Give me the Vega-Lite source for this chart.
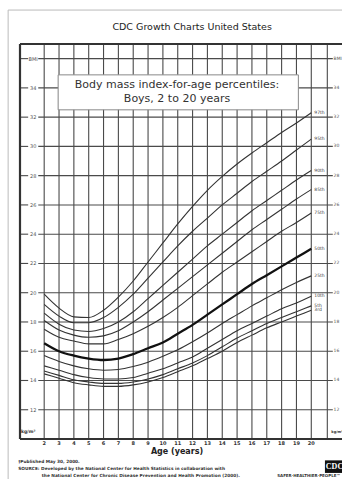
{
  "$schema": "https://vega.github.io/schema/vega-lite/v6.json",
  "width": 322,
  "height": 395,
  "autosize": "none",
  "padding": {"left": 20, "top": 44, "right": 0, "bottom": 40},
  "background": "white",
  "config": {"view": {"stroke": null}, "axisY": {"disable": true}, "axisX": {"disable": true}, "font": "DejaVu Sans"},
  "data": {"values": [{}]},
  "datasets": {
    "ages": [{"age":2},{"age":3},{"age":4},{"age":5},{"age":6},{"age":7},{"age":8},{"age":9},{"age":10},{"age":11},{"age":12},{"age":13},{"age":14},{"age":15},{"age":16},{"age":17},{"age":18},{"age":19},{"age":20}],
    "ylab": [{"bmi":12,"label":"12"},{"bmi":14,"label":"14"},{"bmi":16,"label":"16"},{"bmi":18,"label":"18"},{"bmi":20,"label":"20"},{"bmi":22,"label":"22"},{"bmi":24,"label":"24"},{"bmi":26,"label":"26"},{"bmi":28,"label":"28"},{"bmi":30,"label":"30"},{"bmi":32,"label":"32"},{"bmi":34,"label":"34"},{"bmi":36,"label":"BMI"}],
    "curves": [
      {"pct":"3rd","age":2,"bmi":14.45},{"pct":"3rd","age":3,"bmi":14.15},{"pct":"3rd","age":4,"bmi":13.85},{"pct":"3rd","age":5,"bmi":13.7},{"pct":"3rd","age":6,"bmi":13.6},{"pct":"3rd","age":7,"bmi":13.6},{"pct":"3rd","age":8,"bmi":13.7},{"pct":"3rd","age":9,"bmi":13.9},{"pct":"3rd","age":10,"bmi":14.2},{"pct":"3rd","age":11,"bmi":14.6},{"pct":"3rd","age":12,"bmi":15.0},{"pct":"3rd","age":13,"bmi":15.5},{"pct":"3rd","age":14,"bmi":16.0},{"pct":"3rd","age":15,"bmi":16.6},{"pct":"3rd","age":16,"bmi":17.1},{"pct":"3rd","age":17,"bmi":17.6},{"pct":"3rd","age":18,"bmi":18.0},{"pct":"3rd","age":19,"bmi":18.4},{"pct":"3rd","age":20,"bmi":18.8},
      {"pct":"5th","age":2,"bmi":14.65},{"pct":"5th","age":3,"bmi":14.35},{"pct":"5th","age":4,"bmi":14.05},{"pct":"5th","age":5,"bmi":13.9},{"pct":"5th","age":6,"bmi":13.8},{"pct":"5th","age":7,"bmi":13.8},{"pct":"5th","age":8,"bmi":13.9},{"pct":"5th","age":9,"bmi":14.1},{"pct":"5th","age":10,"bmi":14.4},{"pct":"5th","age":11,"bmi":14.8},{"pct":"5th","age":12,"bmi":15.2},{"pct":"5th","age":13,"bmi":15.7},{"pct":"5th","age":14,"bmi":16.3},{"pct":"5th","age":15,"bmi":16.9},{"pct":"5th","age":16,"bmi":17.4},{"pct":"5th","age":17,"bmi":17.9},{"pct":"5th","age":18,"bmi":18.3},{"pct":"5th","age":19,"bmi":18.7},{"pct":"5th","age":20,"bmi":19.1},
      {"pct":"10th","age":2,"bmi":15.0},{"pct":"10th","age":3,"bmi":14.7},{"pct":"10th","age":4,"bmi":14.4},{"pct":"10th","age":5,"bmi":14.2},{"pct":"10th","age":6,"bmi":14.1},{"pct":"10th","age":7,"bmi":14.1},{"pct":"10th","age":8,"bmi":14.2},{"pct":"10th","age":9,"bmi":14.5},{"pct":"10th","age":10,"bmi":14.8},{"pct":"10th","age":11,"bmi":15.2},{"pct":"10th","age":12,"bmi":15.6},{"pct":"10th","age":13,"bmi":16.2},{"pct":"10th","age":14,"bmi":16.8},{"pct":"10th","age":15,"bmi":17.4},{"pct":"10th","age":16,"bmi":17.9},{"pct":"10th","age":17,"bmi":18.4},{"pct":"10th","age":18,"bmi":18.9},{"pct":"10th","age":19,"bmi":19.3},{"pct":"10th","age":20,"bmi":19.75},
      {"pct":"25th","age":2,"bmi":15.7},{"pct":"25th","age":3,"bmi":15.3},{"pct":"25th","age":4,"bmi":15.0},{"pct":"25th","age":5,"bmi":14.8},{"pct":"25th","age":6,"bmi":14.7},{"pct":"25th","age":7,"bmi":14.75},{"pct":"25th","age":8,"bmi":14.95},{"pct":"25th","age":9,"bmi":15.25},{"pct":"25th","age":10,"bmi":15.65},{"pct":"25th","age":11,"bmi":16.1},{"pct":"25th","age":12,"bmi":16.65},{"pct":"25th","age":13,"bmi":17.25},{"pct":"25th","age":14,"bmi":17.9},{"pct":"25th","age":15,"bmi":18.5},{"pct":"25th","age":16,"bmi":19.1},{"pct":"25th","age":17,"bmi":19.65},{"pct":"25th","age":18,"bmi":20.2},{"pct":"25th","age":19,"bmi":20.7},{"pct":"25th","age":20,"bmi":21.15},
      {"pct":"50th","age":2,"bmi":16.55},{"pct":"50th","age":3,"bmi":16.0},{"pct":"50th","age":4,"bmi":15.7},{"pct":"50th","age":5,"bmi":15.5},{"pct":"50th","age":6,"bmi":15.4},{"pct":"50th","age":7,"bmi":15.5},{"pct":"50th","age":8,"bmi":15.8},{"pct":"50th","age":9,"bmi":16.2},{"pct":"50th","age":10,"bmi":16.6},{"pct":"50th","age":11,"bmi":17.2},{"pct":"50th","age":12,"bmi":17.8},{"pct":"50th","age":13,"bmi":18.5},{"pct":"50th","age":14,"bmi":19.2},{"pct":"50th","age":15,"bmi":19.9},{"pct":"50th","age":16,"bmi":20.6},{"pct":"50th","age":17,"bmi":21.2},{"pct":"50th","age":18,"bmi":21.8},{"pct":"50th","age":19,"bmi":22.4},{"pct":"50th","age":20,"bmi":23.0},
      {"pct":"75th","age":2,"bmi":17.5},{"pct":"75th","age":3,"bmi":16.95},{"pct":"75th","age":4,"bmi":16.7},{"pct":"75th","age":5,"bmi":16.5},{"pct":"75th","age":6,"bmi":16.5},{"pct":"75th","age":7,"bmi":16.8},{"pct":"75th","age":8,"bmi":17.2},{"pct":"75th","age":9,"bmi":17.7},{"pct":"75th","age":10,"bmi":18.3},{"pct":"75th","age":11,"bmi":19.0},{"pct":"75th","age":12,"bmi":19.8},{"pct":"75th","age":13,"bmi":20.6},{"pct":"75th","age":14,"bmi":21.4},{"pct":"75th","age":15,"bmi":22.1},{"pct":"75th","age":16,"bmi":22.8},{"pct":"75th","age":17,"bmi":23.5},{"pct":"75th","age":18,"bmi":24.2},{"pct":"75th","age":19,"bmi":24.8},{"pct":"75th","age":20,"bmi":25.45},
      {"pct":"85th","age":2,"bmi":18.1},{"pct":"85th","age":3,"bmi":17.45},{"pct":"85th","age":4,"bmi":17.1},{"pct":"85th","age":5,"bmi":16.95},{"pct":"85th","age":6,"bmi":17.05},{"pct":"85th","age":7,"bmi":17.4},{"pct":"85th","age":8,"bmi":18.0},{"pct":"85th","age":9,"bmi":18.7},{"pct":"85th","age":10,"bmi":19.5},{"pct":"85th","age":11,"bmi":20.3},{"pct":"85th","age":12,"bmi":21.1},{"pct":"85th","age":13,"bmi":21.9},{"pct":"85th","age":14,"bmi":22.7},{"pct":"85th","age":15,"bmi":23.5},{"pct":"85th","age":16,"bmi":24.3},{"pct":"85th","age":17,"bmi":25.0},{"pct":"85th","age":18,"bmi":25.7},{"pct":"85th","age":19,"bmi":26.4},{"pct":"85th","age":20,"bmi":27.05},
      {"pct":"90th","age":2,"bmi":18.6},{"pct":"90th","age":3,"bmi":17.85},{"pct":"90th","age":4,"bmi":17.45},{"pct":"90th","age":5,"bmi":17.35},{"pct":"90th","age":6,"bmi":17.55},{"pct":"90th","age":7,"bmi":18.0},{"pct":"90th","age":8,"bmi":18.7},{"pct":"90th","age":9,"bmi":19.6},{"pct":"90th","age":10,"bmi":20.5},{"pct":"90th","age":11,"bmi":21.4},{"pct":"90th","age":12,"bmi":22.3},{"pct":"90th","age":13,"bmi":23.2},{"pct":"90th","age":14,"bmi":24.0},{"pct":"90th","age":15,"bmi":24.8},{"pct":"90th","age":16,"bmi":25.6},{"pct":"90th","age":17,"bmi":26.3},{"pct":"90th","age":18,"bmi":27.0},{"pct":"90th","age":19,"bmi":27.7},{"pct":"90th","age":20,"bmi":28.35},
      {"pct":"95th","age":2,"bmi":19.2},{"pct":"95th","age":3,"bmi":18.4},{"pct":"95th","age":4,"bmi":17.95},{"pct":"95th","age":5,"bmi":17.95},{"pct":"95th","age":6,"bmi":18.3},{"pct":"95th","age":7,"bmi":19.0},{"pct":"95th","age":8,"bmi":19.9},{"pct":"95th","age":9,"bmi":21.0},{"pct":"95th","age":10,"bmi":22.1},{"pct":"95th","age":11,"bmi":23.2},{"pct":"95th","age":12,"bmi":24.2},{"pct":"95th","age":13,"bmi":25.1},{"pct":"95th","age":14,"bmi":26.0},{"pct":"95th","age":15,"bmi":26.8},{"pct":"95th","age":16,"bmi":27.6},{"pct":"95th","age":17,"bmi":28.3},{"pct":"95th","age":18,"bmi":29.0},{"pct":"95th","age":19,"bmi":29.75},{"pct":"95th","age":20,"bmi":30.5},
      {"pct":"97th","age":2,"bmi":19.9},{"pct":"97th","age":3,"bmi":18.95},{"pct":"97th","age":4,"bmi":18.35},{"pct":"97th","age":5,"bmi":18.3},{"pct":"97th","age":6,"bmi":18.8},{"pct":"97th","age":7,"bmi":19.7},{"pct":"97th","age":8,"bmi":20.8},{"pct":"97th","age":9,"bmi":22.1},{"pct":"97th","age":10,"bmi":23.4},{"pct":"97th","age":11,"bmi":24.7},{"pct":"97th","age":12,"bmi":25.9},{"pct":"97th","age":13,"bmi":27.0},{"pct":"97th","age":14,"bmi":27.95},{"pct":"97th","age":15,"bmi":28.8},{"pct":"97th","age":16,"bmi":29.55},{"pct":"97th","age":17,"bmi":30.25},{"pct":"97th","age":18,"bmi":30.95},{"pct":"97th","age":19,"bmi":31.6},{"pct":"97th","age":20,"bmi":32.3}
    ]
  },
  "layer": [
    {
      "data": {"name": "ages"},
      "mark": {"type": "rule", "color": "#4a4a4a", "strokeWidth": 1.1},
      "encoding": {
        "x": {"field": "age", "type": "quantitative", "scale": {"domain": [0.37, 22.07], "nice": false, "zero": false}},
        "y": {"datum": 10, "type": "quantitative", "scale": {"domain": [10, 37], "nice": false, "zero": false}},
        "y2": {"datum": 37}
      }
    },
    {
      "data": {"name": "ages"},
      "mark": {"type": "text", "fontSize": 5, "fontWeight": "bold", "fill": "#333"},
      "encoding": {"x": {"field": "age", "type": "quantitative"}, "y": {"datum": 9.74}, "text": {"field": "age"}}
    },
    {
      "mark": {"type": "text", "fontSize": 8, "fontWeight": "bold", "fill": "#222"},
      "encoding": {"x": {"datum": 10.95}, "y": {"datum": 9.13}, "text": {"value": "Age (years)"}}
    },
    {
      "mark": {"type": "rect", "filled": false, "stroke": "#bbbbbb", "strokeWidth": 1},
      "encoding": {"x": {"datum": -0.43}, "x2": {"datum": 23.5}, "y": {"datum": 39.32}, "y2": {"datum": 5}}
    },
    {
      "mark": {"type": "rule", "color": "#4a4a4a", "strokeWidth": 1.1},
      "encoding": {"x": {"datum": 21.08}, "y": {"datum": 10}, "y2": {"datum": 37}}
    },
    {
      "data": {"name": "ylab"},
      "mark": {"type": "rule", "color": "#4a4a4a", "strokeWidth": 1.1},
      "encoding": {"x": {"datum": 1.6}, "x2": {"datum": 21.45}, "y": {"field": "bmi", "type": "quantitative"}}
    },
    {
      "data": {"name": "ylab"},
      "mark": {"type": "rule", "color": "#4a4a4a", "strokeWidth": 1.1},
      "encoding": {"x": {"datum": 0.37}, "x2": {"datum": 0.92}, "y": {"field": "bmi", "type": "quantitative"}}
    },
    {
      "data": {"name": "ylab"},
      "mark": {"type": "text", "fontSize": 5, "fill": "#555"},
      "encoding": {"x": {"datum": 1.26}, "y": {"field": "bmi", "type": "quantitative"}, "text": {"field": "label"}}
    },
    {
      "data": {"name": "ylab"},
      "mark": {"type": "text", "fontSize": 4.5, "fill": "#555", "align": "left"},
      "encoding": {"x": {"datum": 21.5}, "y": {"field": "bmi", "type": "quantitative"}, "text": {"field": "label"}}
    },
    {
      "mark": {"type": "rule", "color": "#333", "strokeWidth": 2.2},
      "encoding": {"x": {"datum": 0.37}, "y": {"datum": 10}, "y2": {"datum": 37}}
    },
    {
      "mark": {"type": "rule", "color": "#333", "strokeWidth": 2.2},
      "encoding": {"x": {"datum": 0.37}, "x2": {"datum": 22.07}, "y": {"datum": 37}}
    },
    {
      "mark": {"type": "rule", "color": "#333", "strokeWidth": 2.2},
      "encoding": {"x": {"datum": 0.37}, "x2": {"datum": 22.07}, "y": {"datum": 10}}
    },
    {
      "mark": {"type": "rect", "fill": "white", "stroke": "#888", "strokeWidth": 1},
      "encoding": {"x": {"datum": 2.94}, "x2": {"datum": 19.13}, "y": {"datum": 34.89}, "y2": {"datum": 32.5}}
    },
    {
      "mark": {"type": "text", "fontSize": 11, "fill": "#333", "font": "DejaVu Sans"},
      "encoding": {"x": {"datum": 10.95}, "y": {"datum": 34.2}, "text": {"value": "Body mass index-for-age percentiles:"}}
    },
    {
      "mark": {"type": "text", "fontSize": 11, "fill": "#333", "font": "DejaVu Sans"},
      "encoding": {"x": {"datum": 10.95}, "y": {"datum": 33.25}, "text": {"value": "Boys, 2 to 20 years"}}
    },
    {
      "data": {"name": "curves"},
      "transform": [{"filter": "datum.pct !== '50th'"}],
      "mark": {"type": "line", "color": "#333", "strokeWidth": 1.1, "interpolate": "monotone"},
      "encoding": {"x": {"field": "age", "type": "quantitative"}, "y": {"field": "bmi", "type": "quantitative"}, "detail": {"field": "pct"}}
    },
    {
      "data": {"name": "curves"},
      "transform": [{"filter": "datum.pct === '50th'"}],
      "mark": {"type": "line", "color": "#111", "strokeWidth": 2.3, "interpolate": "monotone"},
      "encoding": {"x": {"field": "age", "type": "quantitative"}, "y": {"field": "bmi", "type": "quantitative"}}
    },
    {
      "data": {"name": "curves"},
      "transform": [{"filter": "datum.age === 20"}],
      "mark": {"type": "text", "fontSize": 4.5, "fill": "#444", "align": "left", "dx": 3},
      "encoding": {"x": {"field": "age", "type": "quantitative"}, "y": {"field": "bmi", "type": "quantitative"}, "text": {"field": "pct"}}
    },
    {
      "mark": {"type": "text", "fontSize": 4.5, "fontWeight": "bold", "fill": "#333"},
      "encoding": {"x": {"datum": 0.92}, "y": {"datum": 10.45}, "text": {"value": "kg/m²"}}
    },
    {
      "mark": {"type": "text", "fontSize": 3.6, "fontWeight": "bold", "fill": "#333", "align": "left"},
      "encoding": {"x": {"datum": 21.35}, "y": {"datum": 10.45}, "text": {"value": "kg/m²"}}
    },
    {
      "mark": {"type": "text", "fontSize": 9.5, "fill": "#222"},
      "encoding": {"x": {"datum": 11.97}, "y": {"datum": 38.16}, "text": {"value": "CDC Growth Charts United States"}}
    },
    {
      "mark": {"type": "text", "fontSize": 4.3, "fontWeight": "bold", "fill": "#333", "align": "left"},
      "encoding": {"x": {"datum": 0.25}, "y": {"datum": 8.4}, "text": {"value": "†Published May 30, 2000."}}
    },
    {
      "mark": {"type": "text", "fontSize": 4.3, "fontWeight": "bold", "fill": "#333", "align": "left"},
      "encoding": {"x": {"datum": 0.25}, "y": {"datum": 7.94}, "text": {"value": "SOURCE: Developed by the National Center for Health Statistics in collaboration with"}}
    },
    {
      "mark": {"type": "text", "fontSize": 4.3, "fontWeight": "bold", "fill": "#333", "align": "left"},
      "encoding": {"x": {"datum": 1.84}, "y": {"datum": 7.5}, "text": {"value": "the National Center for Chronic Disease Prevention and Health Promotion (2000)."}}
    },
    {
      "mark": {"type": "rect", "fill": "#111"},
      "encoding": {"x": {"datum": 20.92}, "x2": {"datum": 22.5}, "y": {"datum": 8.54}, "y2": {"datum": 7.68}}
    },
    {
      "mark": {"type": "text", "fontSize": 8, "fontWeight": "bold", "fill": "white", "align": "left", "font": "Liberation Serif"},
      "encoding": {"x": {"datum": 20.98}, "y": {"datum": 8.1}, "text": {"value": "CDC"}}
    },
    {
      "mark": {"type": "text", "fontSize": 4, "fontWeight": "bold", "fill": "#333", "align": "left"},
      "encoding": {"x": {"datum": 17.7}, "y": {"datum": 7.5}, "text": {"value": "SAFER·HEALTHIER·PEOPLE™"}}
    }
  ]
}
